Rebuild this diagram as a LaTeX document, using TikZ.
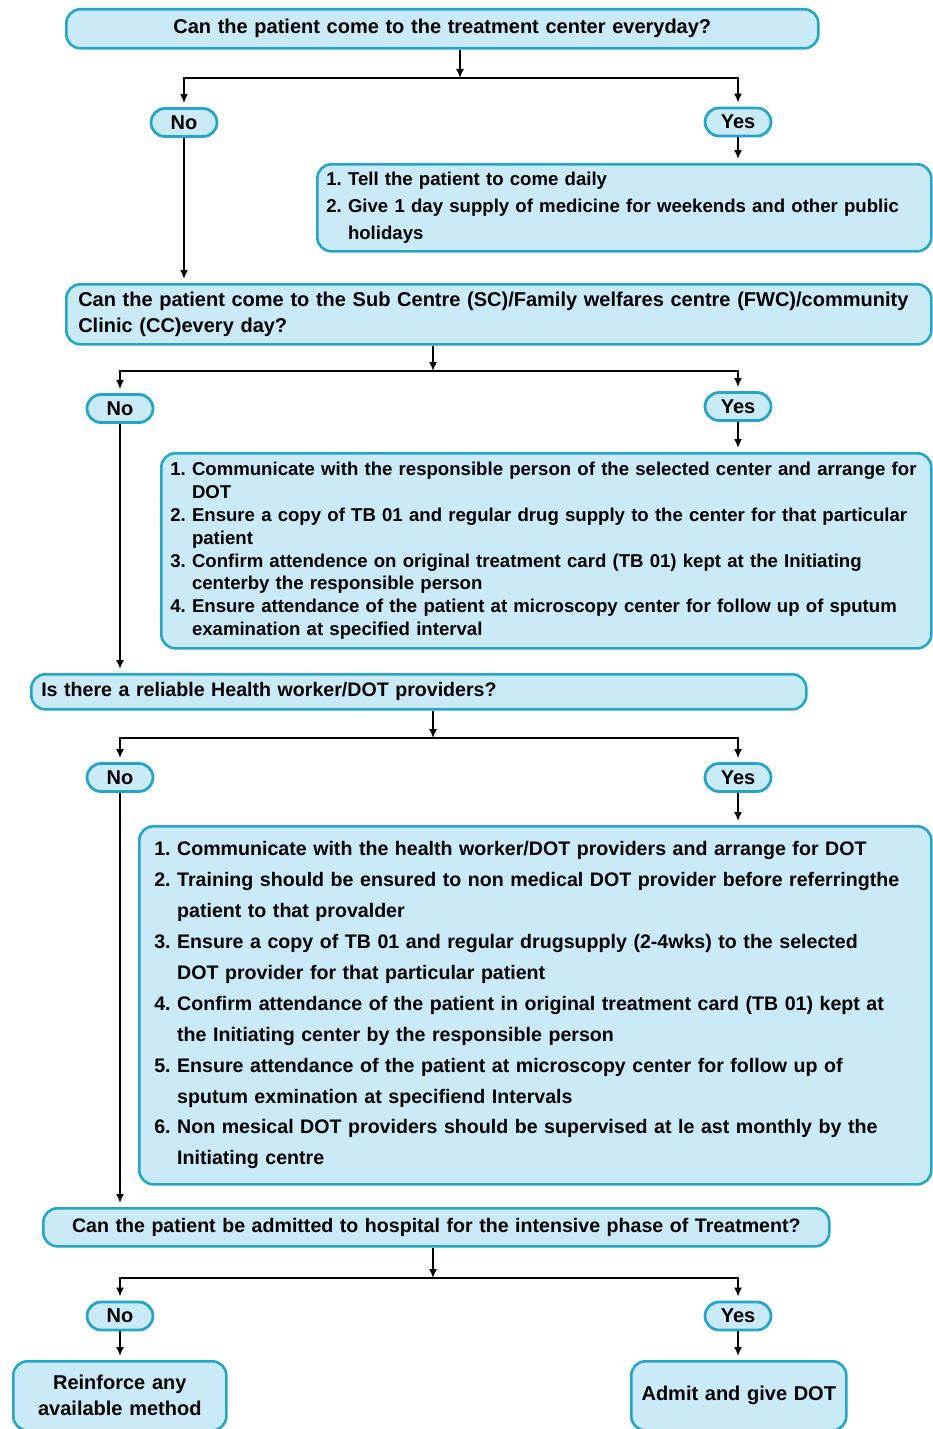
\documentclass[tikz,border=0pt]{standalone}
\usepackage{fontspec}
\setmainfont{Liberation Sans}
\usetikzlibrary{arrows.meta}
\frenchspacing

\definecolor{boxfill}{RGB}{202,234,247}
\definecolor{boxline}{RGB}{38,166,199}

\tikzset{every picture/.style={line width=0.8pt}}
\tikzset{
  qbox/.style={draw=boxline, fill=boxfill, line width=1.3pt, rounded corners=7pt, anchor=north west, inner sep=0pt, font=\fontsize{10}{13}\selectfont\bfseries},
  pill/.style={draw=boxline, fill=boxfill, line width=1.4pt, rounded corners=7pt, minimum width=33pt, minimum height=14pt, inner sep=0pt, font=\fontsize{10}{12}\selectfont\bfseries},
  link/.style={-{Latex[length=4.5pt,width=4pt]}, shorten >=2pt},
}

\begin{document}
\begin{tikzpicture}[x=0.5pt,y=0.5pt,yscale=-1]
	\useasboundingbox (0,0) rectangle (932,1429);

	%Shape: Rounded Rect [id:q1]
	\draw (65,8) node[qbox, inner xsep=6pt, text width=364pt, minimum height=19.5pt, align=center] (q1) {Can the patient come to the treatment center everyday?};
	%Shape: Rounded Rect [id:a1]
	\draw (316,163) node[qbox, inner xsep=4.5pt, text width=298pt, minimum height=43.5pt, align=left, font=\fontsize{9.3}{13.5}\selectfont\bfseries] (a1) {1. Tell the patient to come daily\\
		2. Give 1 day supply of medicine for weekends and other public\\
		\phantom{2. }holidays};
	%Shape: Rounded Rect [id:q2]
	\draw (65,283) node[qbox, inner xsep=6pt, text width=420.5pt, minimum height=30pt, align=left] (q2) {Can the patient come to the Sub Centre (SC)/Family welfares centre (FWC)/community\\
		Clinic (CC)every day?};
	%Shape: Rounded Rect [id:a2]
	\draw (160,452) node[qbox, inner xsep=4.5pt, text width=376pt, minimum height=97.5pt, align=left, font=\fontsize{9.3}{11.4}\selectfont\bfseries] (a2) {1. Communicate with the responsible person of the selected center and arrange for\\
		\phantom{1. }DOT\\
		2. Ensure a copy of TB 01 and regular drug supply to the center for that particular\\
		\phantom{2. }patient\\
		3. Confirm attendence on original treatment card (TB 01) kept at the Initiating\\
		\phantom{3. }centerby the responsible person\\
		4. Ensure attendance of the patient at microscopy center for follow up of sputum\\
		\phantom{4. }examination at specified interval};
	%Shape: Rounded Rect [id:q3]
	\draw (30,673) node[qbox, inner xsep=5pt, text width=377.5pt, minimum height=17.5pt, align=left, font=\fontsize{9.8}{12}\selectfont\bfseries] (q3) {Is there a reliable Health worker/DOT providers?};
	%Shape: Rounded Rect [id:a3]
	\draw (138,825) node[qbox, inner xsep=7.5pt, text width=381pt, minimum height=179pt, align=left, font=\fontsize{9.8}{15.45}\selectfont\bfseries] (a3) {1. Communicate with the health worker/DOT providers and arrange for DOT\\
		2. Training should be ensured to non medical DOT provider before referringthe\\
		\phantom{2. }patient to that provalder\\
		3. Ensure a copy of TB 01 and regular drugsupply (2-4wks) to the selected\\
		\phantom{3. }DOT provider for that particular patient\\
		4. Confirm attendance of the patient in original treatment card (TB 01) kept at\\
		\phantom{4. }the Initiating center by the responsible person\\
		5. Ensure attendance of the patient at microscopy center for follow up of\\
		\phantom{5. }sputum exmination at specifiend Intervals\\
		6. Non mesical DOT providers should be supervised at le ast monthly by the\\
		\phantom{6. }Initiating centre};
	%Shape: Rounded Rect [id:q4]
	\draw (42,1207) node[qbox, inner xsep=6pt, text width=381pt, minimum height=19pt, align=center, font=\fontsize{9.8}{12}\selectfont\bfseries] (q4) {Can the patient be admitted to hospital for the intensive phase of Treatment?};
	%Shape: Rounded Rect [id:b1]
	\draw (12,1360) node[qbox, inner xsep=5pt, text width=96.5pt, minimum height=34.5pt, align=center] (b1) {Reinforce any\\available method};
	%Shape: Rounded Rect [id:b2]
	\draw (630,1360) node[qbox, inner xsep=5pt, text width=97.5pt, minimum height=34.5pt, align=center] (b2) {Admit and give DOT};

	%Shape: Pills [Yes/No]
	\draw (184,122.5) node[pill] (no1) {No};
	\draw (738,122) node[pill] (yes1) {Yes};
	\draw (120,408.5) node[pill] (no2) {No};
	\draw (738,406.5) node[pill] (yes2) {Yes};
	\draw (120,777.5) node[pill] (no3) {No};
	\draw (738,777.5) node[pill] (yes3) {Yes};
	\draw (120,1316) node[pill] (no4) {No};
	\draw (738,1316) node[pill] (yes4) {Yes};

	% split points
	\coordinate (s1) at (460,78);
	\coordinate (s2) at (433,371);
	\coordinate (s3) at (433,738);
	\coordinate (s4) at (433,1278);

	%Straight Lines
	\draw [link, shorten >=0pt] (s1 |- q1.south) -- (s1);
	\draw [link] (s1) -| (no1);
	\draw [link] (s1) -| (yes1);
	\draw [link] (yes1) -- (yes1 |- a1.north);
	\draw [link] (no1) -- (no1 |- q2.north);

	\draw [link, shorten >=0pt] (s2 |- q2.south) -- (s2);
	\draw [link] (s2) -| (no2);
	\draw [link] (s2) -| (yes2);
	\draw [link] (yes2) -- (yes2 |- a2.north);
	\draw [link] (no2) -- (no2 |- q3.north);

	\draw [link, shorten >=0pt] (s3 |- q3.south) -- (s3);
	\draw [link] (s3) -| (no3);
	\draw [link] (s3) -| (yes3);
	\draw [link] (yes3) -- (yes3 |- a3.north);
	\draw [link] (no3) -- (no3 |- q4.north);

	\draw [link, shorten >=0pt] (s4 |- q4.south) -- (s4);
	\draw [link] (s4) -| (no4);
	\draw [link] (s4) -| (yes4);
	\draw [link] (yes4) -- (yes4 |- b2.north);
	\draw [link] (no4) -- (no4 |- b1.north);

\end{tikzpicture}
\end{document}
